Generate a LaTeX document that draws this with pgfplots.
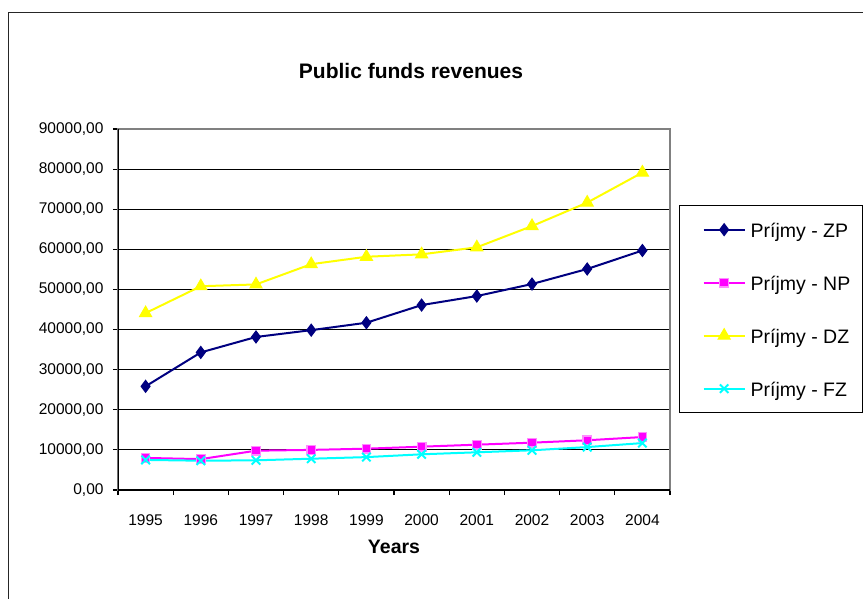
\documentclass[border=0pt]{standalone}
\usepackage{pgfplots}
\pgfplotsset{compat=1.18}
\usepackage{fontspec}
\setmainfont{Liberation Sans}
\definecolor{zpc}{RGB}{0,0,128}
\definecolor{npc}{RGB}{255,0,255}
\definecolor{dzc}{RGB}{255,255,0}
\definecolor{fzc}{RGB}{0,255,255}
\begin{document}
\begin{tikzpicture}[x=1pt,y=1pt]
\useasboundingbox (0,0) rectangle (863,598);
\draw[line width=1.6pt, black!85] (8.5,-2) -- (8.5,585.3) -- (870,585.3);
\begin{axis}[
  at={(118pt,108pt)}, anchor=south west,
  width=552pt, height=361pt, scale only axis,
  xmin=-0.5, xmax=9.5, ymin=0, ymax=90000,
  ytick={0,10000,...,90000},
  xtick={-0.5,0.5,...,9.5}, xticklabels={},
  extra x ticks={0,...,9},
  extra x tick labels={1995,1996,1997,1998,1999,2000,2001,2002,2003,2004},
  extra x tick style={grid=none, tick style={draw=none}},
  xtick pos=bottom, ytick pos=left,
  tick align=outside, major tick length=5pt,
  tick style={black, line width=1.1pt},
  axis line style={draw=black!50, line width=1.3pt},
  ymajorgrids, grid style={black, line width=1.2pt},
  tick label style={font=\fontsize{15.5}{18}\selectfont, inner sep=0pt},
  xticklabel style={anchor=base, yshift=-30.5pt},
  yticklabel style={anchor=east, xshift=-9.3pt},
  scaled y ticks=false,
  yticklabel={\pgfmathprintnumber[fixed, fixed zerofill, precision=2, use comma, 1000 sep={}, assume math mode=true]{\tick}},
  title={Public funds revenues},
  title style={font=\bfseries\fontsize{21}{24}\selectfont, at={(rel axis cs:0.5,1)}, anchor=center, yshift=52.3pt, xshift=17pt, inner sep=0pt},
  xlabel={Years},
  xlabel style={font=\bfseries\fontsize{19.5}{22}\selectfont, at={(rel axis cs:0.5,0)}, anchor=center, yshift=-57pt, inner sep=0pt},
  legend image code/.code={\path (0pt,0pt); \draw[mark repeat=2,mark phase=2,#1] plot coordinates {(11pt,0pt) (31.5pt,0pt) (52pt,0pt)};},
  legend style={at={(1.0163,0.7895)}, anchor=north west, draw=black, line width=1.3pt,
    font=\fontsize{19.5}{22}\selectfont, inner xsep=12pt, inner ysep=13pt, row sep=31pt,
    column sep=5pt, nodes={inner sep=0pt, text height=19pt, text depth=3pt}},
  legend cell align=left,
]
\addplot[zpc, line width=2pt, mark=diamond*, mark size=6pt, mark options={solid, fill=zpc, line width=1pt}]
  coordinates {(0,25850) (1,34300) (2,38150) (3,39850) (4,41700) (5,46100) (6,48350) (7,51350) (8,55100) (9,59700)};
\addlegendentry{Príjmy - ZP}
\addplot[npc, line width=2pt, mark=square*, mark size=4.3pt, mark options={solid, fill=npc, draw=npc!45, line width=1.2pt}]
  coordinates {(0,8000) (1,7700) (2,9800) (3,10000) (4,10300) (5,10800) (6,11300) (7,11800) (8,12400) (9,13200)};
\addlegendentry{Príjmy - NP}
\addplot[dzc, line width=2pt, mark=triangle*, mark size=7pt, mark options={solid, fill=dzc, line width=1pt}]
  coordinates {(0,44100) (1,50800) (2,51250) (3,56300) (4,58150) (5,58750) (6,60500) (7,65800) (8,71650) (9,79150)};
\addlegendentry{Príjmy - DZ}
\addplot[fzc, line width=2pt, mark=x, mark size=6pt, mark options={solid, line width=2pt}]
  coordinates {(0,7500) (1,7300) (2,7400) (3,7800) (4,8200) (5,8900) (6,9400) (7,9900) (8,10700) (9,11700)};
\addlegendentry{Príjmy - FZ}
\draw[black, line width=1.4pt] (rel axis cs:0,1) -- (rel axis cs:0,0) -- (rel axis cs:1,0);
\end{axis}
\end{tikzpicture}
\end{document}
